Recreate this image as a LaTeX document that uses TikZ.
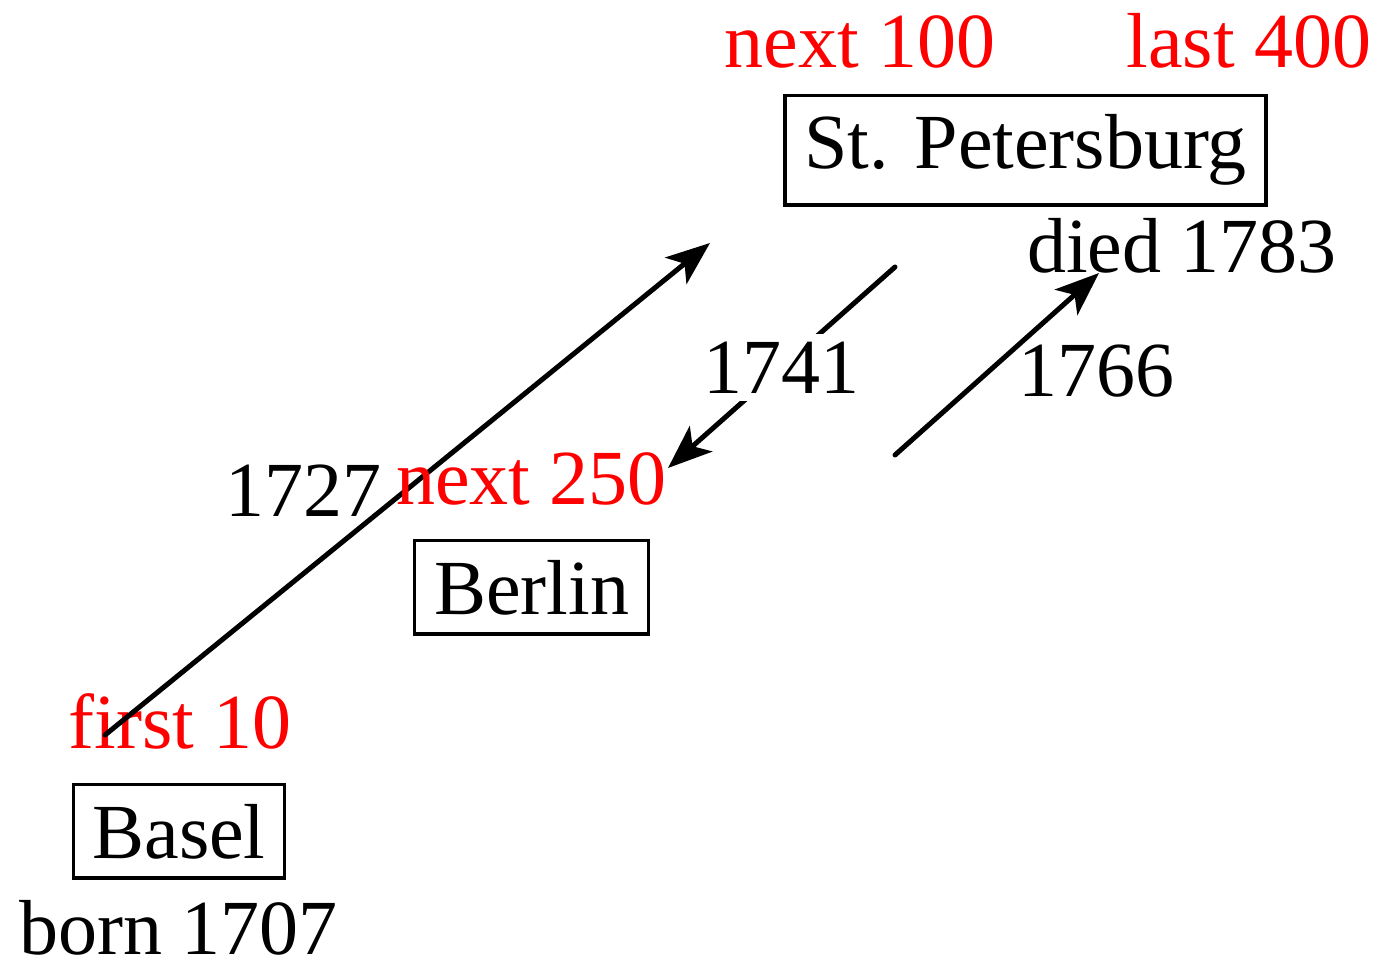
\documentclass[tikz,border=0pt]{standalone}
\usepackage{fontspec}
\setmainfont{Liberation Serif}
\usetikzlibrary{arrows.meta}

\tikzset{
  txt/.style={anchor=base, inner sep=0pt, font=\fontsize{19.5}{24}\selectfont},
  note/.style={txt, text=red},
  city/.style={txt, draw, line width=0.8pt, inner sep=4.8pt},
  move/.style={line width=1.25pt, line cap=round,
    -{Stealth[length=11pt, width=8.5pt, inset=2.8pt]}},
  year/.style={fill=white, inner sep=2pt, font=\fontsize{19.5}{24}\selectfont}
}

\begin{document}
\begin{tikzpicture}[x=0.25pt, y=-0.25pt]
  \useasboundingbox (0,0) rectangle (1378,960);

  % cities
  \node[city] (basel) at (179,858) {Basel};
  \node[city] (berlin) at (531.5,614) {Berlin};
  \node[city] (stp) at (1025.5,169) {St. Petersburg};

  % life dates
  \node[txt] (born) at (178.5,954) {born 1707};
  \node[txt] (died) at (1182,273) {died 1783};

  % works written in each city
  \node[note] (first) at (180,748) {first 10};
  \node[note] (next1) at (860,68) {next 100};
  \node[note] (last) at (1249,68) {last 400};

  % Basel to St. Petersburg
  \coordinate (m1a) at (105,735);
  \coordinate (m1b) at (710,243);
  \draw[move] (m1a) -- (m1b);
  \node[txt] (y1727) at (303,517) {1727};
  \node[note] (next2) at (531.5,505) {next 250};

  % St. Petersburg to Berlin
  \coordinate (m2a) at (895,267);
  \coordinate (m2b) at (668,468);
  \draw[move] (m2a) -- node[year] (y1741) {1741} (m2b);

  % Berlin back to St. Petersburg
  \coordinate (m3a) at (895,455);
  \coordinate (m3b) at (1099,273);
  \draw[move] (m3a) -- (m3b);
  \node[txt] (y1766) at (1096,397) {1766};
\end{tikzpicture}
\end{document}
